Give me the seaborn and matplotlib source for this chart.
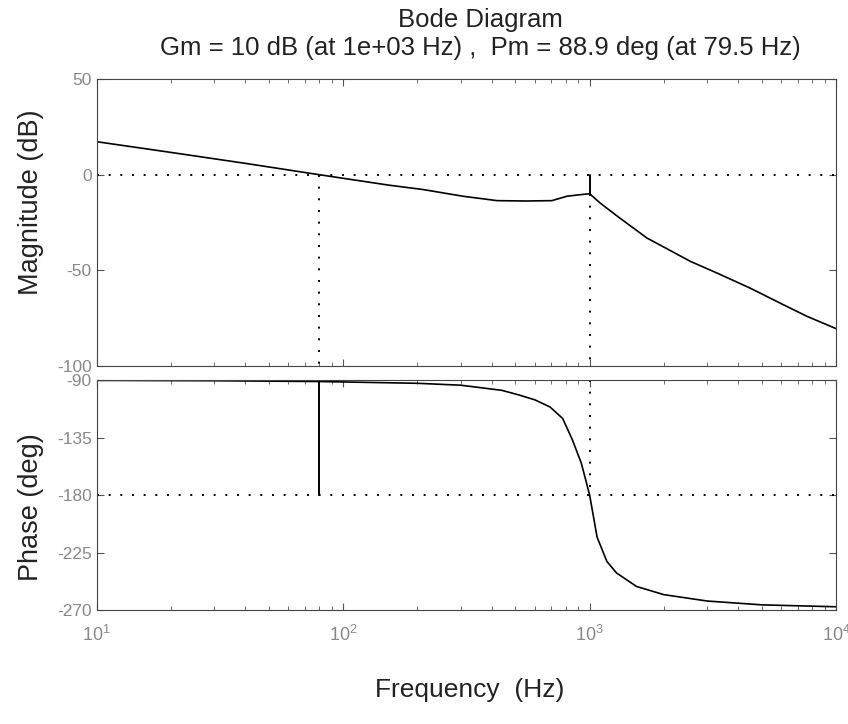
import numpy as np
import pandas as pd
import matplotlib
matplotlib.use("Agg")
import matplotlib.pyplot as plt
import seaborn as sns
from matplotlib.ticker import LogLocator, NullFormatter, FixedLocator

# ============================
# Datos
# ============================
mag_freq = [10, 20, 40, 79.5, 153, 211, 306, 421, 550, 703, 809, 900, 980,
            1000, 1102, 1288, 1706, 2560, 3281, 4477, 6110, 7630, 10000]
mag_db = [17.2, 11.6, 5.9, 0.0, -5.5, -7.8, -11.3, -13.6, -13.8, -13.6,
          -11.3, -10.6, -10.1, -10.0, -14.8, -21.5, -33.1, -45.3, -51.4,
          -59.3, -68.0, -74.1, -80.5]

ph_freq = [10, 30, 79.5, 200, 300, 440, 516, 600, 690, 777, 850, 925, 1000,
           1072, 1175, 1285, 1550, 2000, 3000, 5000, 10000]
ph_deg = [-90.2, -90.5, -91.1, -92.5, -94.0, -98.0, -101.6, -105.5, -111.0,
          -120.0, -136.5, -155.0, -180.0, -213.0, -232.0, -241.0, -251.6,
          -258.0, -263.0, -266.0, -267.5]

gm_freq = 1000.0
gm_db = 10.0
pm_freq = 79.5
pm_deg = 88.9

mag_ticks = [-100, -50, 0, 50]
ph_ticks = [-270, -225, -180, -135, -90]

df_mag = pd.DataFrame({"f": mag_freq, "db": mag_db})
df_ph = pd.DataFrame({"f": ph_freq, "deg": ph_deg})

# ============================
# Estilo
# ============================
sns.set_style("ticks")
plt.rcParams.update({
    "font.family": ["Liberation Sans", "DejaVu Sans"],
    "axes.unicode_minus": False,
    "xtick.direction": "in",
    "ytick.direction": "in",
    "xtick.top": True,
    "ytick.right": True,
    "axes.linewidth": 0.8,
    "axes.edgecolor": "#444444",
    "xtick.color": "#555555",
    "ytick.color": "#555555",
    "xtick.labelcolor": "#888888",
    "ytick.labelcolor": "#888888",
})

fig = plt.figure(figsize=(8.48, 7.24), dpi=100)
ax1 = fig.add_axes([0.114, 0.4945, 0.872, 0.3965])
ax2 = fig.add_axes([0.114, 0.1575, 0.872, 0.3175])

dot = (0, (1, 5))

# Magnitud
sns.lineplot(data=df_mag, x="f", y="db", ax=ax1, color="black",
             linewidth=1.2, estimator=None, sort=False)
ax1.axhline(0, color="black", linestyle=dot, linewidth=1.4)
ax1.plot([pm_freq, pm_freq], [0, -100], color="black", linestyle=dot,
         linewidth=1.4)
ax1.plot([gm_freq, gm_freq], [-gm_db, -100], color="black", linestyle=dot,
         linewidth=1.4)
ax1.plot([gm_freq, gm_freq], [0, -gm_db], color="black", linewidth=1.4)

# Fase
sns.lineplot(data=df_ph, x="f", y="deg", ax=ax2, color="black",
             linewidth=1.2, estimator=None, sort=False)
ax2.axhline(-180, color="black", linestyle=dot, linewidth=1.4)
ax2.plot([gm_freq, gm_freq], [-90, -180], color="black", linestyle=dot,
         linewidth=1.4)
ax2.plot([pm_freq, pm_freq], [-180, -180 + pm_deg], color="black",
         linewidth=1.4)

for ax in (ax1, ax2):
    ax.set_xscale("log")
    ax.set_xlim(10, 1e4)
    ax.xaxis.set_major_locator(LogLocator(base=10, numticks=10))
    ax.xaxis.set_minor_locator(LogLocator(base=10, subs=np.arange(2, 10),
                                          numticks=20))
    ax.xaxis.set_minor_formatter(NullFormatter())
    ax.tick_params(which="major", length=5, width=0.8)
    ax.tick_params(which="minor", length=3, width=0.6)
    ax.tick_params(axis="y", labelsize=12.5)
    ax.tick_params(axis="x", labelsize=13, pad=11)
    ax.set_xlabel("")
    ax.set_ylabel("")

ax1.set_ylim(-100, 50)
ax1.yaxis.set_major_locator(FixedLocator(mag_ticks))
ax1.xaxis.set_major_formatter(NullFormatter())

ax2.set_ylim(-270, -90)
ax2.yaxis.set_major_locator(FixedLocator(ph_ticks))

# Textos
txt = "#222222"
fig.text(0.036, 0.72, "Magnitude (dB)", rotation=90, ha="center",
         va="center", fontsize=19.5, color=txt)
fig.text(0.036, 0.30, "Phase (deg)", rotation=90, ha="center",
         va="center", fontsize=19.5, color=txt)
fig.text(0.554, 0.047, "Frequency  (Hz)", ha="center", va="center",
         fontsize=19, color=txt)
fig.text(0.566, 0.972, "Bode Diagram", ha="center", va="center",
         fontsize=18.5, color=txt)
fig.text(0.566, 0.934,
         f"Gm = {gm_db:g} dB (at 1e+03 Hz) ,  Pm = {pm_deg:g} deg (at {pm_freq:g} Hz)",
         ha="center", va="center", fontsize=18.5, color=txt)

fig.savefig("out.png", dpi=100, facecolor="white")
